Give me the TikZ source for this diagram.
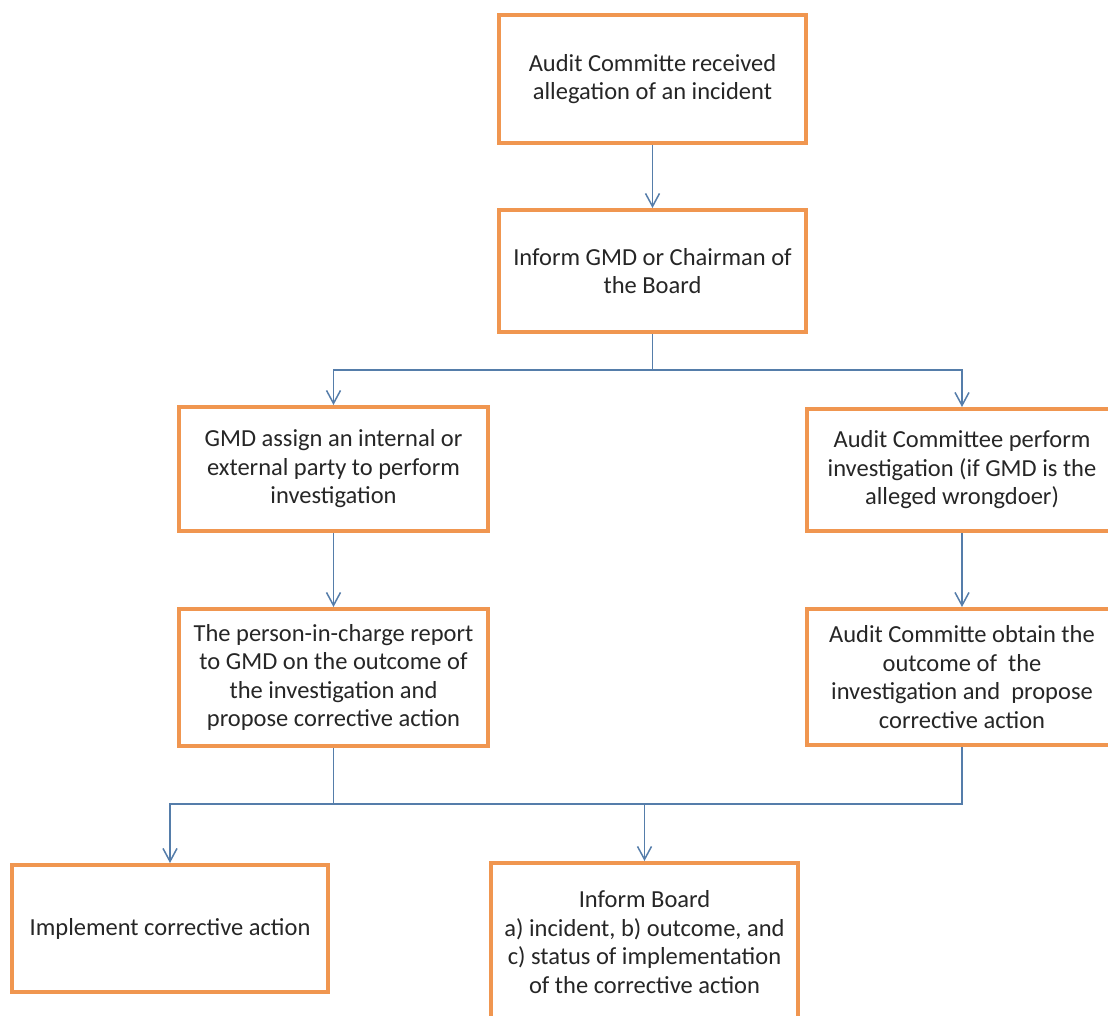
\documentclass[tikz,border=0pt]{standalone}
\usepackage{fontspec}
\setmainfont{Carlito}
\usetikzlibrary{arrows.meta}
\definecolor{boxorange}{RGB}{240,150,80}
\definecolor{linkblue}{RGB}{85,125,170}
\tikzset{
  stepbox/.style={draw=boxorange,line width=4pt,fill=white,align=center,inner sep=0pt,
    text=black!85,font=\fontsize{24.5}{28.5}\selectfont},
  link/.style={draw=linkblue,line width=1.5pt}
}
\begin{document}
\begin{tikzpicture}[>={Straight Barb[length=13pt,width=14pt]},x=1pt,y=-1pt]
	\useasboundingbox (0,0) rectangle (1108,1015);
	\clip (0,0) rectangle (1108,1015);
	% boxes
	\node[stepbox,minimum width=307pt,minimum height=128pt] (recv) at (652.5,79) {Audit Committe received\\allegation of an incident};
	\node[stepbox,minimum width=307pt,minimum height=122pt] (inform) at (652.5,271) {Inform GMD or Chairman of\\the Board};
	\node[stepbox,minimum width=309pt,minimum height=124pt] (assign) at (333.5,469) {GMD assign an internal or\\external party to perform\\investigation};
	\node[stepbox,minimum width=311pt,minimum height=122pt] (acperf) at (962,470) {Audit Committee perform\\investigation (if GMD is the\\alleged wrongdoer)};
	\node[stepbox,minimum width=309pt,minimum height=137pt] (report) at (333.5,677.5) {The person-in-charge report\\to GMD on the outcome of\\the investigation and\\propose corrective action};
	\node[stepbox,minimum width=311pt,minimum height=136pt] (acobtain) at (962,677) {Audit Committe obtain the\\outcome of \ the\\investigation and \ propose\\corrective action};
	\node[stepbox,minimum width=316pt,minimum height=127pt] (implement) at (170,928.5) {Implement corrective action};
	\node[stepbox,minimum width=307pt,minimum height=158pt] (board) at (644.5,942) {Inform Board\\a) incident, b) outcome, and\\c) status of implementation\\of the corrective action};
	% connectors
	\coordinate (split) at (0,370);
	\coordinate (join) at (0,804);
	\draw[link,->] (recv) -- (inform);
	\draw[link,->] (inform.south) -- (inform.south |- split) -| (assign.north);
	\draw[link,->] (inform.south |- split) -| (acperf.north);
	\draw[link,->] (assign) -- (report);
	\draw[link,->] (acperf) -- (acobtain);
	\draw[link] (report.south) -- (report.south |- join);
	\draw[link,->] (acobtain.south) |- (implement.north |- join) -- (implement.north);
	\draw[link,->] (board.north |- join) -- (board.north);
\end{tikzpicture}
\end{document}
